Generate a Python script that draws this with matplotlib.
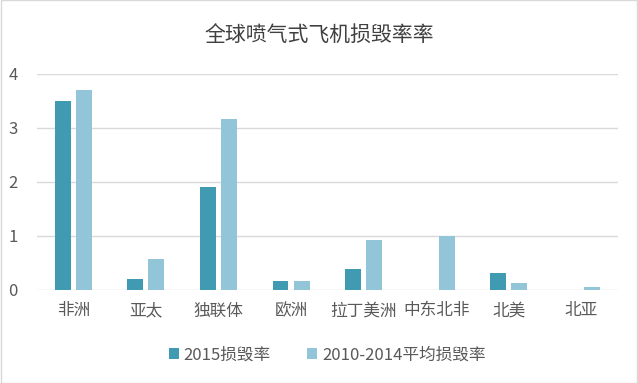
import matplotlib
matplotlib.use("Agg")
import matplotlib.pyplot as plt
import numpy as np

plt.rcParams["font.family"] = ["Noto Sans CJK SC", "DejaVu Sans"]

regions = ["非洲", "亚太", "独联体", "欧洲", "拉丁美洲", "中东北非", "北美", "北亚"]
rate_2015 = [3.50, 0.20, 1.90, 0.16, 0.38, 0.0, 0.31, 0.0]
rate_avg = [3.70, 0.57, 3.17, 0.16, 0.92, 1.00, 0.13, 0.05]
labels = ["2015损毁率", "2010-2014平均损毁率"]

DARK = "#3f9ab2"
LIGHT = "#92c5d7"
TEXT = "#595959"

fig = plt.figure(figsize=(6.38, 3.83), dpi=100)
ax = fig.add_axes([0.058, 0.243, 0.91, 0.564])

x = np.arange(len(regions))
w = 0.22
ax.bar(x - 0.145, rate_2015, width=w, color=DARK, label=labels[0], zorder=3)
ax.bar(x + 0.145, rate_avg, width=w, color=LIGHT, label=labels[1], zorder=3)

ax.set_xlim(-0.5, len(regions) - 0.5)
ax.set_ylim(0, 4)
ax.set_yticks([0, 1, 2, 3, 4])
ax.set_xticks(x)
ax.set_xticklabels(regions)
ax.tick_params(axis="both", length=0, labelsize=12, colors=TEXT)
ax.tick_params(axis="x", pad=9)
ax.tick_params(axis="y", pad=14)
ax.grid(axis="y", color="#d9d9d9", linewidth=1, zorder=0)
for s in ax.spines.values():
    s.set_visible(False)

fig.text(0.5, 0.907, "全球喷气式飞机损毁率率", ha="center", va="center",
         fontsize=15, color="#404040")

ax.legend(loc="center", bbox_to_anchor=(0.5, -0.30), ncol=2, frameon=False,
          fontsize=12, labelcolor=TEXT, handlelength=0.6, handleheight=0.6,
          handletextpad=0.3, columnspacing=2.2)

# thin border around the picture
fig.patches.append(plt.Rectangle((0.001, 0.001), 0.998, 0.998, transform=fig.transFigure,
                                 fill=False, edgecolor="#d9d9d9", linewidth=1))

fig.savefig("out.png", dpi=100)
